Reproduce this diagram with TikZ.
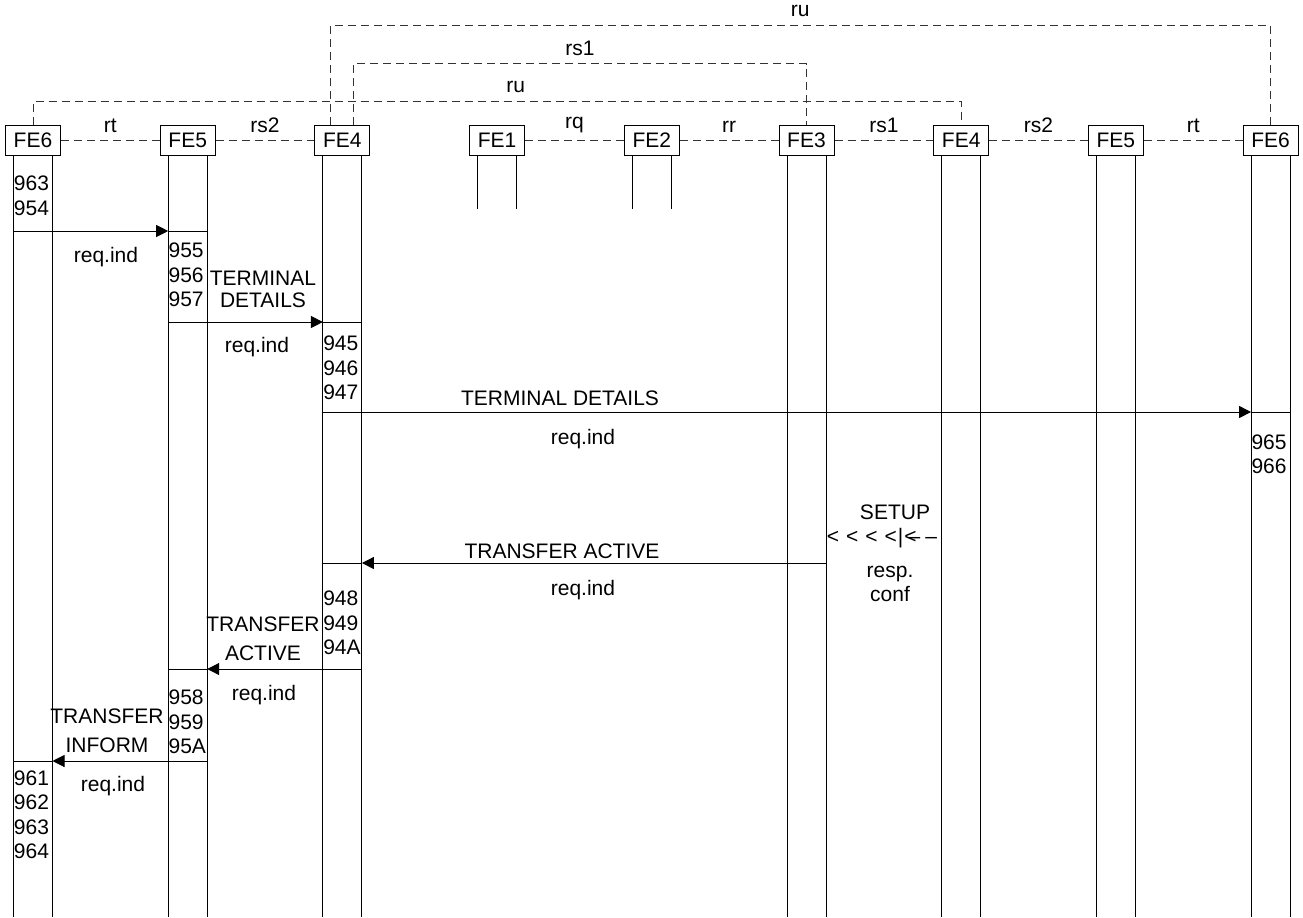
\documentclass[tikz,border=0pt]{standalone}
\usepackage{fontspec}
\setmainfont{Liberation Sans}
\usetikzlibrary{arrows.meta,positioning,calc}
\newcommand{\diagfont}{\fontsize{10.5}{12.25}\selectfont}

\begin{document}
\begin{tikzpicture}[x=0.5pt, y=-0.5pt,
    febox/.style={draw, line width=0.5pt, minimum width=27.5pt, minimum height=15pt,
                  inner sep=0pt, font=\diagfont},
    link/.style={draw=black!80, line width=0.5pt, dash pattern=on 4pt off 2.5pt},
    life/.style={line width=0.5pt},
    msg/.style={-{Triangle[length=6pt,width=6pt]}, line width=0.5pt},
    lbl/.style={font=\diagfont, inner sep=0pt, align=center},
    num/.style={font=\diagfont, inner sep=0pt, align=left, anchor=west}
]
\fill[white] (0,0) rectangle (1303,917);

\node[febox] (fe6a) at (33,140) {FE6};
\node[febox] (fe5a) at (187.7,140) {FE5};
\node[febox] (fe4a) at (342.4,140) {FE4};
\node[febox] (fe1) at (497.1,140) {FE1};
\node[febox] (fe2) at (651.8,140) {FE2};
\node[febox] (fe3) at (806.5,140) {FE3};
\node[febox] (fe4b) at (961.2,140) {FE4};
\node[febox] (fe5b) at (1115.9,140) {FE5};
\node[febox] (fe6b) at (1270.6,140) {FE6};

\foreach \n in {fe6a,fe5a,fe4a,fe3,fe4b,fe5b,fe6b} {
  \coordinate (\n-l) at ([xshift=-9.75pt]\n.south);
  \coordinate (\n-r) at ([xshift=9.75pt]\n.south);
  \draw[life] (\n-l) -- (\n-l |- 0,917);
  \draw[life] (\n-r) -- (\n-r |- 0,917);
}
\foreach \n in {fe1,fe2} {
  \draw[life] ([xshift=-9.75pt]\n.south) -- ++(0,53);
  \draw[life] ([xshift=9.75pt]\n.south) -- ++(0,53);
}

\draw[link] (fe6a) -- node[lbl, above=3.5pt] {rt} (fe5a);
\draw[link] (fe5a) -- node[lbl, above=3.5pt] {rs2} (fe4a);
\draw[link] (fe1) -- node[lbl, above=3.5pt] {rq} (fe2);
\draw[link] (fe2) -- node[lbl, above=3.5pt] {rr} (fe3);
\draw[link] (fe3) -- node[lbl, above=3.5pt] {rs1} (fe4b);
\draw[link] (fe4b) -- node[lbl, above=3.5pt] {rs2} (fe5b);
\draw[link] (fe5b) -- node[lbl, above=3.5pt] {rt} (fe6b);

\draw[link] ([xshift=-6.2pt]fe4a.north) -- ++(0,-99) -| node[lbl, above=4pt, pos=0.25] {ru} (fe6b.north);
\draw[link] ([xshift=5.5pt]fe4a.north) -- ++(0,-61) -| node[lbl, above=3.5pt, pos=0.25] {rs1} (fe3.north);
\draw[link] (fe6a.north) -- ++(0,-23.3) -| node[lbl, above=4pt, pos=0.26] {ru} (fe4b.north);

\coordinate (m1) at (0,231);
\coordinate (m2) at (0,322);
\coordinate (m3) at (0,412);
\coordinate (m4) at (0,563);
\coordinate (m5) at (0,669);
\coordinate (m6) at (0,761);

\draw[msg] (fe6a-l |- m1) -- (fe5a-l |- m1);
\draw[life] (fe5a-l |- m1) -- (fe5a-r |- m1);
\draw[msg] (fe5a-l |- m2) -- (fe4a-l |- m2);
\draw[life] (fe4a-l |- m2) -- (fe4a-r |- m2);
\draw[msg] (fe4a-l |- m3) -- (fe6b-l |- m3);
\draw[life] (fe6b-l |- m3) -- (fe6b-r |- m3);
\draw[msg] (fe3-r |- m4) -- (fe4a-r |- m4);
\draw[life] (fe4a-r |- m4) -- (fe4a-l |- m4);
\draw[msg] (fe4a-r |- m5) -- (fe5a-r |- m5);
\draw[life] (fe5a-r |- m5) -- (fe5a-l |- m5);
\draw[msg] (fe5a-r |- m6) -- (fe6a-r |- m6);
\draw[life] (fe6a-r |- m6) -- (fe6a-l |- m6);

\node[num] (n6a1) at (fe6a-l |- 0,196) {963\\954};
\node[num] (n5a1) at (fe5a-l |- 0,275) {955\\956\\957};
\node[num] (n4a1) at (fe4a-l |- 0,368) {945\\946\\947};
\node[num] (n6b1) at (fe6b-l |- 0,454.5) {965\\966};
\node[num] (n4a2) at (fe4a-l |- 0,623) {948\\949\\94A};
\node[num] (n5a2) at (fe5a-l |- 0,722) {958\\959\\95A};
\node[num] (n6a2) at (fe6a-l |- 0,815) {961\\962\\963\\964};

\node[lbl] (m1r) at (106,257) {req.ind};
\node[lbl] (m2t) at (263,289) {TERMINAL\\[-1.25pt]DETAILS};
\node[lbl] (m2r) at (257,347) {req.ind};
\node[lbl] (m3t) at (560,398) {TERMINAL DETAILS};
\node[lbl] (m3r) at (583,439) {req.ind};
\node[lbl] (m4t) at (562,551) {TRANSFER ACTIVE};
\node[lbl] (m4r) at (583,590) {req.ind};
\node[lbl] (m5t) at (263,639) {TRANSFER\\[2.5pt]ACTIVE};
\node[lbl] (m5r) at (264,695) {req.ind};
\node[lbl] (m6t) at (107,731) {TRANSFER\\[2.5pt]INFORM};
\node[lbl] (m6r) at (113,786) {req.ind};

\node[lbl] (setup) at (895,512) {SETUP};
\node[lbl] (chev) at (882,538) {<\hspace{3.5pt}<\hspace{3.5pt}<\hspace{3.5pt}<\hspace{0.5pt}|\hspace{0.5pt}<\kern-4pt–\hspace{2.5pt}–};
\node[lbl] (resp) at (890,584) {resp.\\conf};
\end{tikzpicture}
\end{document}
